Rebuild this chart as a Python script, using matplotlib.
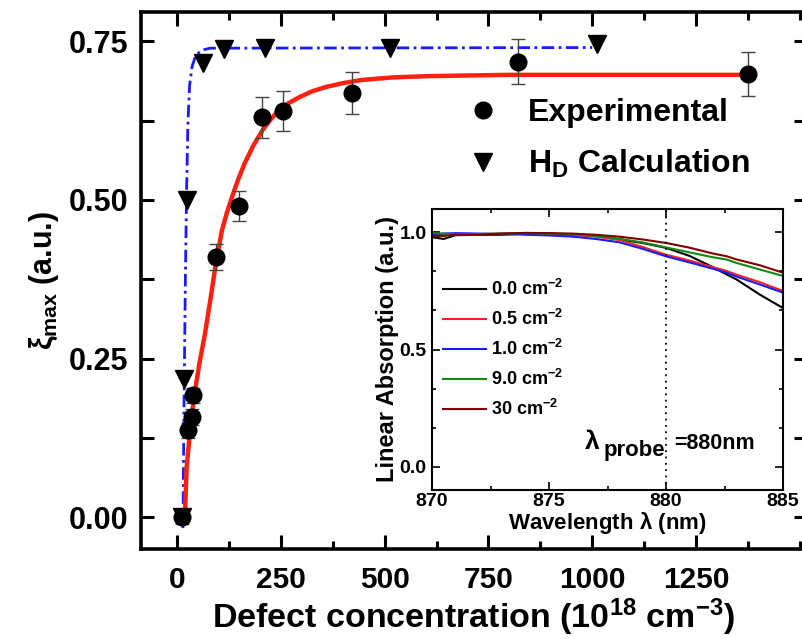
import numpy as np
import matplotlib
matplotlib.use('Agg')
import matplotlib.pyplot as plt
from matplotlib.lines import Line2D
from matplotlib.ticker import MultipleLocator, AutoMinorLocator

plt.rcParams['font.family'] = ['Liberation Sans', 'DejaVu Sans']
plt.rcParams['font.weight'] = 'bold'
plt.rcParams['mathtext.fontset'] = 'custom'
plt.rcParams['mathtext.rm'] = 'Liberation Sans:bold'
plt.rcParams['mathtext.it'] = 'Liberation Sans:bold'
plt.rcParams['mathtext.bf'] = 'Liberation Sans:bold'

# experimental points (defect concentration, xi_max, error)
exp_x = [12, 27, 36, 39, 93, 148, 204, 256, 421, 821, 1375]
exp_y = [0.0, 0.137, 0.158, 0.192, 0.41, 0.49, 0.63, 0.64, 0.668, 0.718, 0.698]
exp_err = [0.01, 0.012, 0.012, 0.012, 0.021, 0.024, 0.032, 0.032, 0.033, 0.035, 0.035]

# H_D calculation points
calc_x = [12, 17, 24, 62, 113, 211, 512, 1012]
calc_y = [0.0, 0.218, 0.5, 0.716, 0.737, 0.739, 0.739, 0.745]

# fit curves
red_x = [19, 23, 30, 37, 46, 55, 67, 80, 92, 108, 120, 132, 147, 163, 184, 206, 222, 239,
         265, 295, 325, 359, 400, 446, 520, 606, 800, 1375]
red_y = [0.005, 0.079, 0.127, 0.169, 0.211, 0.247, 0.289, 0.342, 0.394, 0.452, 0.48, 0.504,
         0.532, 0.558, 0.586, 0.61, 0.624, 0.637, 0.651, 0.662, 0.671, 0.678, 0.684, 0.689,
         0.693, 0.695, 0.697, 0.697]
blue_x = [14, 17, 20, 23, 26, 30, 36, 45, 60, 80, 1000]
blue_y = [-0.017, 0.2, 0.38, 0.52, 0.62, 0.68, 0.71, 0.728, 0.736, 0.739, 0.74]

# inset: linear absorption spectra
wl = [870, 870.5, 871, 872, 873, 874, 875, 876, 877, 878, 879, 880, 881, 882, 882.6, 883, 884, 885]
abs_00 = [0.98, 0.972, 0.988, 0.99, 0.99, 0.995, 0.995, 0.99, 0.985, 0.97, 0.955, 0.934, 0.90, 0.852, 0.82, 0.80, 0.735, 0.677]
abs_05 = [0.985, 0.988, 0.99, 0.993, 0.995, 0.997, 0.995, 0.99, 0.982, 0.968, 0.938, 0.905, 0.88, 0.852, 0.835, 0.82, 0.788, 0.75]
abs_10 = [0.99, 0.995, 0.997, 0.995, 0.993, 0.99, 0.987, 0.982, 0.972, 0.958, 0.93, 0.898, 0.872, 0.845, 0.828, 0.812, 0.778, 0.743]
abs_90 = [0.997, 0.995, 0.993, 0.993, 0.995, 0.997, 0.995, 0.992, 0.985, 0.973, 0.957, 0.936, 0.915, 0.894, 0.884, 0.87, 0.842, 0.814]
abs_30 = [0.985, 0.985, 0.99, 0.99, 0.995, 0.998, 0.997, 0.995, 0.99, 0.982, 0.97, 0.955, 0.935, 0.91, 0.898, 0.885, 0.86, 0.828]
spectra = [abs_00, abs_05, abs_10, abs_90, abs_30]
spec_lab = ['0.0 cm$^{-2}$', '0.5 cm$^{-2}$', '1.0 cm$^{-2}$', '9.0 cm$^{-2}$', '30 cm$^{-2}$']
spec_col = ['#000000', '#ff2020', '#1a1aff', '#108a10', '#800000']

fig = plt.figure(figsize=(8.03, 6.39), dpi=100)
ax = fig.add_axes([141/803, 1-549/639, 665/803, 537/639])

ax.plot(blue_x, blue_y, color='#1a1aff', lw=2, ls=(0, (4.5, 1.6, 1, 1.6)), zorder=2)
ax.plot(red_x, red_y, color='#ff2010', lw=3.2, zorder=2)
ax.errorbar(exp_x, exp_y, yerr=exp_err, fmt='none', ecolor='#444444', elinewidth=1,
            capsize=5, capthick=1, zorder=3)
ax.plot(exp_x, exp_y, 'o', color='k', ms=12, zorder=4)
ax.plot(calc_x, calc_y, 'v', color='k', ms=13, zorder=4)

ax.set_xlim(-87, 1515)
ax.set_ylim(-0.05, 0.796)
ax.xaxis.set_minor_locator(AutoMinorLocator(2))
ax.yaxis.set_minor_locator(AutoMinorLocator(2))
ax.set_yticks([0, 0.25, 0.5, 0.75])
ax.set_yticklabels(['0.00', '0.25', '0.50', '0.75'])
ax.set_xticks([0, 250, 500, 750, 1000, 1250])
ax.tick_params(which='both', direction='in', top=True, right=True, width=2.2)
ax.tick_params(axis='x', which='major', length=10, labelsize=21.5, pad=12)
ax.tick_params(axis='x', which='minor', length=6)
ax.tick_params(axis='y', which='both', length=9, labelsize=22, pad=9)
for lb in ax.get_xticklabels() + ax.get_yticklabels():
    lb.set_fontweight('bold')
for s in ax.spines.values():
    s.set_linewidth(2.6)

ax.set_xlabel(r'Defect concentration (10$^{18}$ cm$^{-3}$)', fontsize=24.5,
              fontweight='bold', labelpad=2)
ax.set_ylabel(r'$\xi_{max}$ (a.u.)', fontsize=22, fontweight='bold', labelpad=6)

handles = [Line2D([], [], marker='o', ls='none', color='k', ms=12),
           Line2D([], [], marker='v', ls='none', color='k', ms=13)]
ax.legend(handles, ['Experimental', r'H$_{\mathregular{D}}$ Calculation'],
          loc='upper left', bbox_to_anchor=(0.49, 0.84), frameon=False,
          fontsize=23, handlelength=1.0, handletextpad=0.9, labelspacing=0.62,
          borderpad=0, borderaxespad=0)

# inset
axi = fig.add_axes([432/803, 1-490/639, 351/803, 281/639])
for ys, lab, col in zip(spectra, spec_lab, spec_col):
    axi.plot(wl, ys, color=col, lw=1.5, label=lab)
axi.axvline(880, color='k', ls=(0, (1, 2.5)), lw=1.3)
axi.set_xlim(870, 885)
axi.set_ylim(-0.1, 1.1)
axi.xaxis.set_major_locator(MultipleLocator(5))
axi.xaxis.set_minor_locator(AutoMinorLocator(2))
axi.yaxis.set_major_locator(MultipleLocator(0.5))
axi.yaxis.set_minor_locator(AutoMinorLocator(3))
axi.tick_params(which='both', direction='in', top=True, right=True, width=1.2, labelsize=14)
axi.tick_params(which='major', length=6, pad=4)
axi.tick_params(axis='x', which='major', pad=2)
axi.tick_params(which='minor', length=3)
for s in axi.spines.values():
    s.set_linewidth(1.5)
axi.set_xlabel(r'Wavelength $\lambda$ (nm)', fontsize=16, fontweight='bold', labelpad=0)
axi.set_ylabel('Linear Absorption (a.u.)', fontsize=17, fontweight='bold', labelpad=0)
axi.legend(loc='upper left', bbox_to_anchor=(0.03, 0.75), frameon=False, fontsize=13,
           handlelength=2.4, handletextpad=0.3, labelspacing=0.55,
           borderpad=0, borderaxespad=0)
axi.text(0.434, 0.146, r'$\lambda$', transform=axi.transAxes, fontsize=19,
         ha='left', va='baseline')
axi.text(0.489, 0.122, 'probe', transform=axi.transAxes, fontsize=16,
         ha='left', va='baseline')
axi.text(0.689, 0.146, '=880nm', transform=axi.transAxes, fontsize=15.5,
         ha='left', va='baseline')

fig.savefig('out.png', dpi=100)
